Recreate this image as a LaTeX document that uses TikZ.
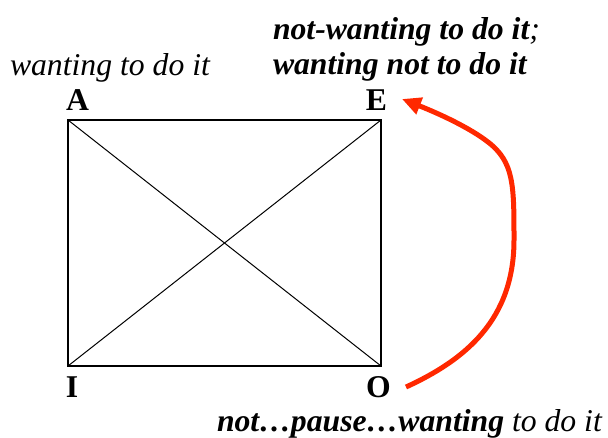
\documentclass[tikz,border=0pt]{standalone}
\usepackage{fontspec}
\setmainfont{Liberation Serif}
\usepackage{xcolor}
\usepackage{tikz}
\usetikzlibrary{arrows.meta}
\definecolor{arrowred}{RGB}{255,40,0}

\begin{document}
\begin{tikzpicture}[x=1pt, y=-1pt, every node/.style={inner sep=0pt, outer sep=0pt, font=\fontsize{31.7}{35}\selectfont}, corner/.style={anchor=base, font=\fontsize{31.7}{35}\selectfont\bfseries}, gloss/.style={anchor=base west, font=\fontsize{31.7}{35}\selectfont\itshape}]
        \useasboundingbox (0,0) rectangle (608,437);
        % square of opposition
        \coordinate (ca) at (68,120);
        \coordinate (ce) at (381,120);
        \coordinate (ci) at (68,366);
        \coordinate (co) at (381,366);
        \draw[line width=2.6pt, line join=miter] (ca) -- (ce) -- (co) -- (ci) -- cycle;
        \draw[line width=1pt] (ca) -- (co);
        \draw[line width=1pt] (ce) -- (ci);

        \node[corner] (lblA) at (77.5,110) {A};
        \node[corner] (lblE) at (376.5,110) {E};
        \node[corner] (lblI) at (72,397) {I};
        \node[corner] (lblO) at (378.5,397) {O};

        \node[gloss] (wantA) at (10,75) {wanting to do it};
        \node[gloss] (wantE1) at (273,39) {\textbf{not-wanting to do it};};
        \node[gloss] (wantE2) at (273,74) {\bfseries wanting not to do it};
        \node[gloss] (wantO) at (217,431) {\textbf{not\ldots pause\ldots wanting} to do it};

        \coordinate (arrstart) at (406,387);
        \coordinate (arrtip) at (402,99);
        \draw[line width=5pt, arrowred, -{Triangle[length=19pt, width=17pt]}] (arrstart) .. controls (465,360) and (514,320) .. (514,240) .. controls (514,185) and (514,162) .. (488,142) .. controls (470,128) and (440,114) .. (arrtip);
    \end{tikzpicture}
\end{document}
